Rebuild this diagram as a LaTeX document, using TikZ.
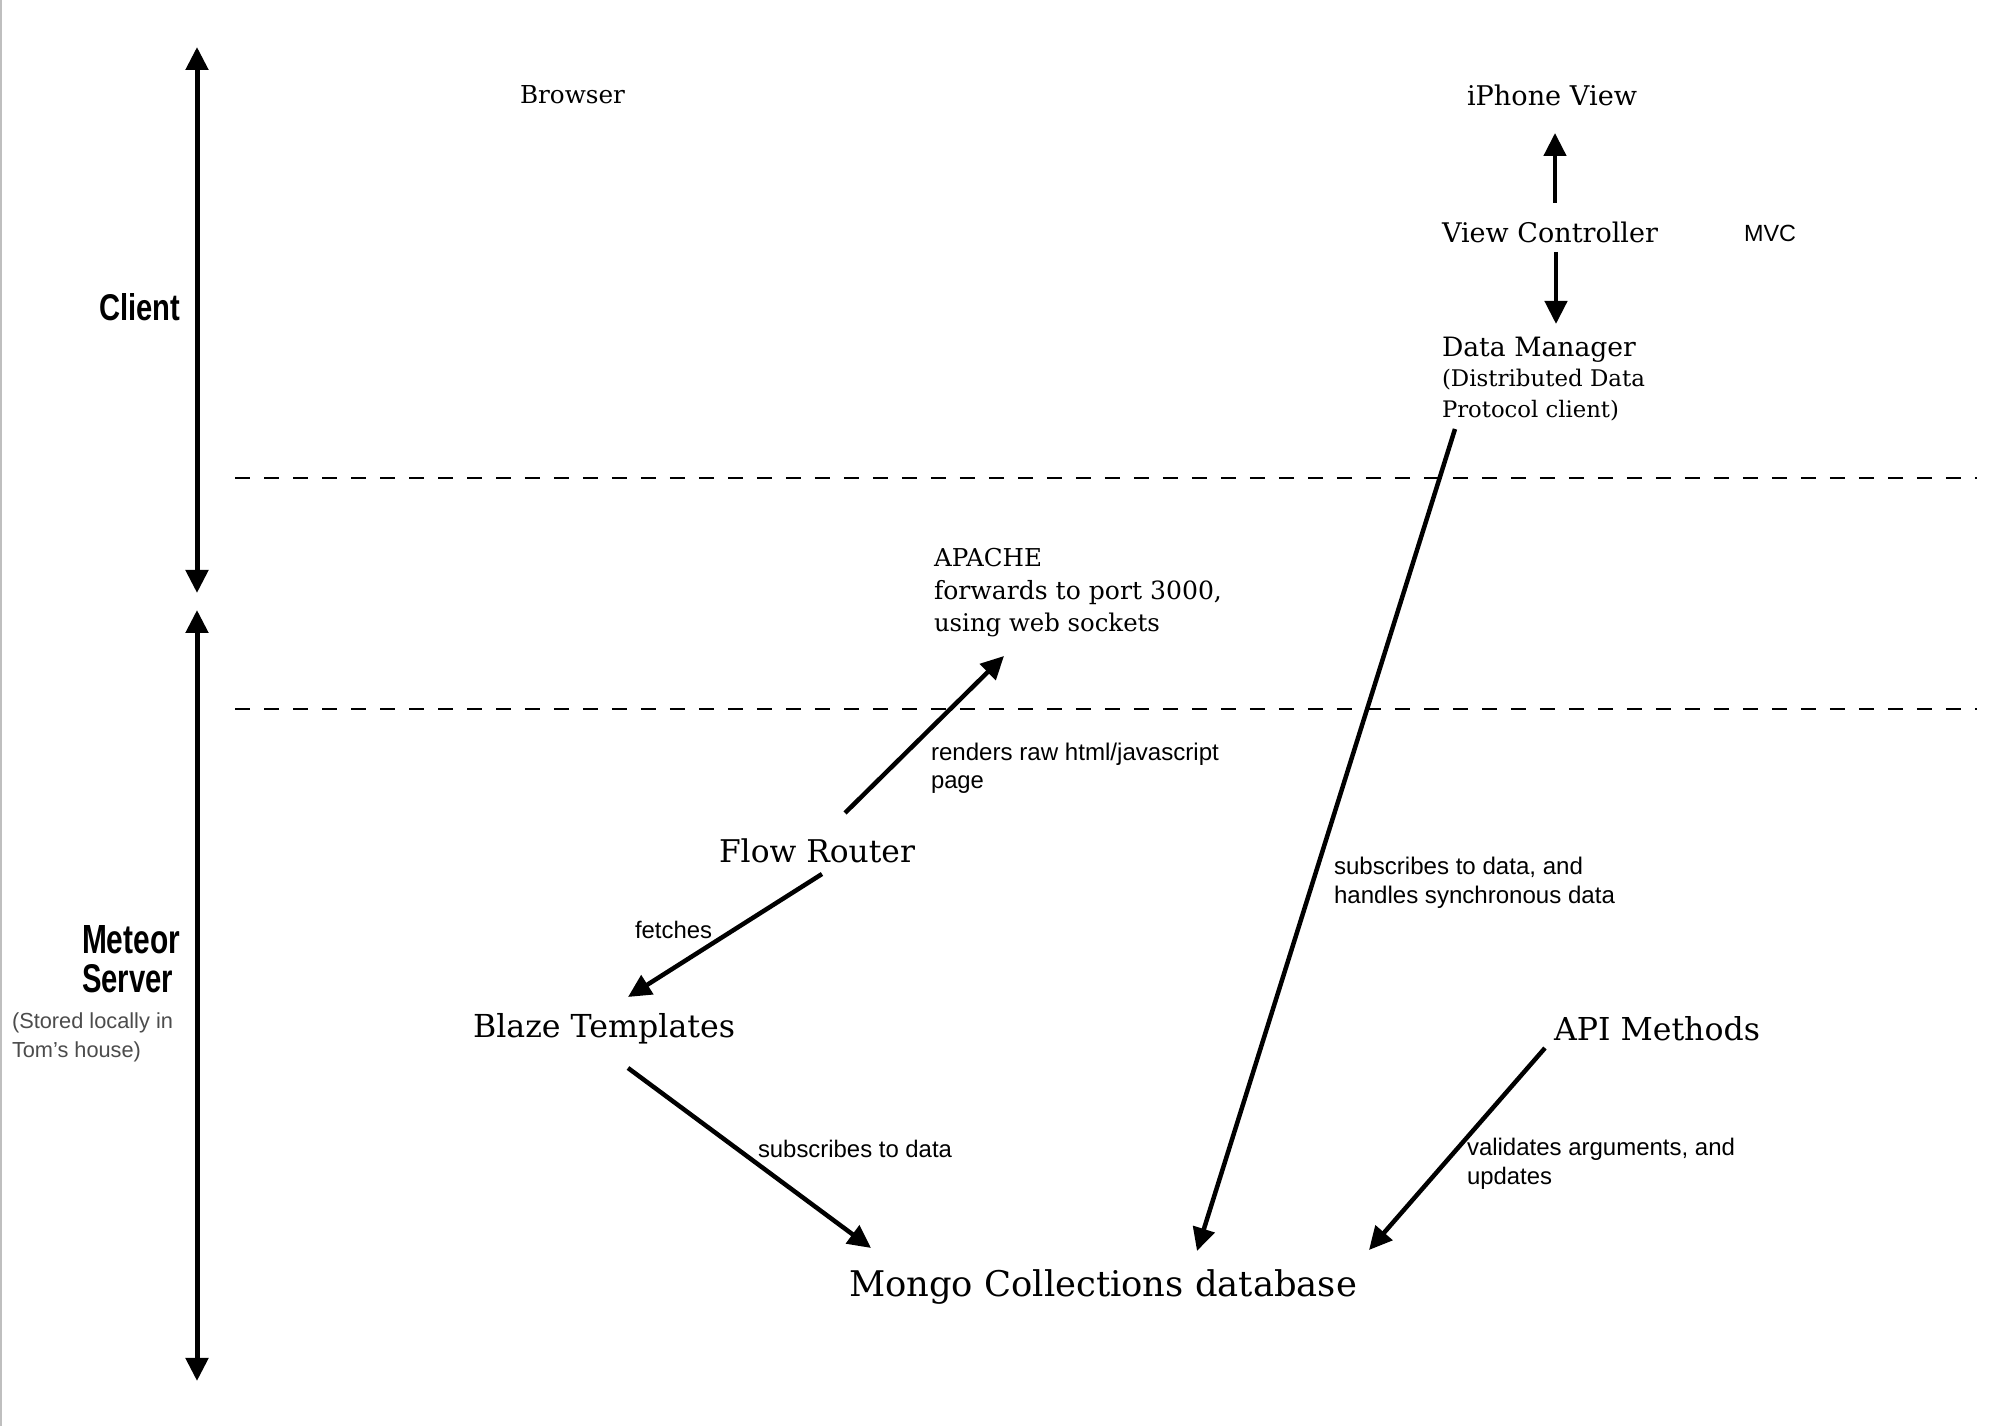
\documentclass[tikz,border=0pt]{standalone}
\usepackage{fontspec}
\setmainfont{DejaVu Serif}
\newfontfamily\labfont{Liberation Sans}
\usetikzlibrary{arrows.meta}
\newlength\pxu \setlength\pxu{0.1mm}
\newcommand\fw[2]{\resizebox{#1\pxu}{!}{#2}}
\newcommand\fwh[3]{\resizebox{#1\pxu}{#2\pxu}{#3}}
\begin{document}
\begin{tikzpicture}[x=0.1mm,y=-0.1mm,
  txt/.style={inner sep=0pt, outer sep=0pt, anchor=west, align=left},
  ser/.style={txt, font={\fontsize{8pt}{#1}\selectfont\lineskiplimit=-20pt\relax}},
  ser/.default=9pt,
  sans/.style={txt, font={\labfont\fontsize{8pt}{#1}\selectfont\lineskiplimit=-20pt\relax}},
  sans/.default=8.25pt,
  tip/.tip={Triangle[length=2.3mm,width=2.2mm]},
  arr/.style={line width=0.45mm, -tip},
  tieraxis/.style={line width=0.5mm, tip-tip},
  divider/.style={line width=0.2mm, dash pattern=on 1.5mm off 1.4mm},
  edge/.style={black!25, line width=0.2mm}]
\useasboundingbox (0,0) rectangle (1992,1426);
\fill[white] (0,0) rectangle (1992,1426);

% page edge
\coordinate (e1) at (1,0);
\coordinate (e2) at (1,1426);
\draw[edge] (e1) -- (e2);

% tier axes
\coordinate (ca) at (197,47);
\coordinate (cb) at (197,593);
\coordinate (sa) at (197,610);
\coordinate (sb) at (197,1381);
\draw[tieraxis] (ca) -- (cb);
\draw[tieraxis] (sa) -- (sb);

% dividers
\coordinate (d1a) at (235,478);
\coordinate (d1b) at (1977,478);
\coordinate (d2a) at (235,709);
\coordinate (d2b) at (1977,709);
\draw[divider] (d1a) -- (d1b);
\draw[divider] (d2a) -- (d2b);

% tier labels
\node[txt, font=\labfont\bfseries] (client) at (99,307) {\fwh{81}{27}{Client}};
\node[txt, font={\labfont\bfseries\fontsize{10pt}{11.1pt}\selectfont\lineskiplimit=-20pt\relax}] (meteor) at (82,959.5) {\fwh{98}{28}{Meteor}\\\fwh{91}{28}{Server}};
\node[sans, text=black!70] (stored) at (12,1037) {\fw{161}{(Stored locally in}\\\fw{129}{Tom’s house)}};

% nodes
\node[ser] (browser) at (520,95) {\fw{105}{Browser}};
\node[ser] (iphone) at (1467,95) {\fw{170}{iPhone View}};
\node[ser] (vc) at (1442,232) {\fw{216}{View Controller}};
\node[sans] (mvc) at (1744,233) {\fw{52}{MVC}};
\node[ser=8.7pt] (dm) at (1442,379) {\fw{194}{Data Manager}\\\fw{203}{(Distributed Data}\\\fw{177}{Protocol client)}};
\node[ser=9.25pt] (ap) at (934,593) {\fw{108}{APACHE}\\\fw{288}{forwards to port 3000,}\\\fw{226}{using web sockets}};
\node[ser] (fr) at (719,851) {\fw{196}{Flow Router}};
\node[ser] (bt) at (473,1029) {\fw{262}{Blaze Templates}};
\node[ser] (mongo) at (849,1287) {\fw{508}{Mongo Collections database}};
\node[ser] (api) at (1554,1029) {\fw{206}{API Methods}};

% connector labels
\node[sans=8pt] (lrender) at (931,768) {\fw{288}{renders raw html/javascript}\\\fw{53}{page}};
\node[sans] (lfetch) at (635,930) {\fw{77}{fetches}};
\node[sans] (lsub) at (758,1149) {\fw{194}{subscribes to data}};
\node[sans] (lsync) at (1334,882.5) {\fw{249}{subscribes to data, and}\\\fw{281}{handles synchronous data}};
\node[sans] (lval) at (1467,1163.5) {\fw{268}{validates arguments, and}\\\fw{85}{updates}};

% connectors
\draw[arr] ([shift={(113,-29)}]vc.west) -- ([shift={(88,38)}]iphone.west);
\draw[arr] ([shift={(114,20)}]vc.west) -- ([shift={(114,-55)}]dm.west);
\draw[arr] ([shift={(13,50)}]dm.west) -- ([shift={(348,-36)}]mongo.west);
\draw[arr] ([shift={(126,-38)}]fr.west) -- ([shift={(70,63)}]ap.west);
\draw[arr] ([shift={(103,23)}]fr.west) -- ([shift={(155,-32)}]bt.west);
\draw[arr] ([shift={(155,39)}]bt.west) -- ([shift={(22,-39)}]mongo.west);
\draw[arr] ([shift={(-9,19)}]api.west) -- ([shift={(520,-37)}]mongo.west);
\end{tikzpicture}
\end{document}
